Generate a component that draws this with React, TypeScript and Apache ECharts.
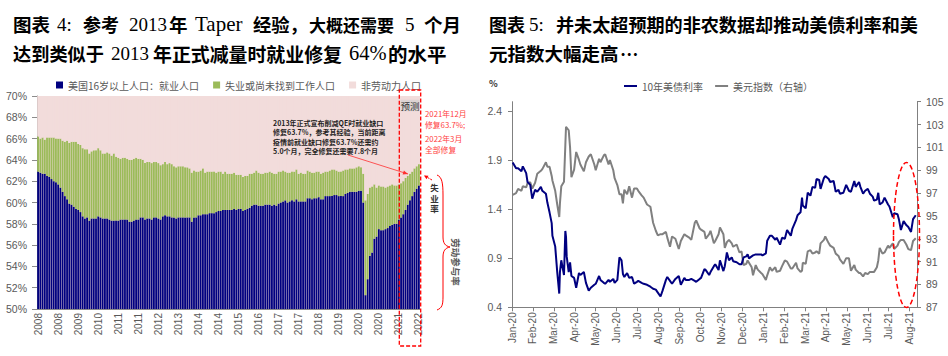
import React, { useEffect, useRef } from 'react';
import * as echarts from 'echarts';

// ---------- Left chart: US population 16+ (percent) ----------
const employmentRate = [
  62.9, 62.8, 62.7, 62.7, 62.5, 62.4, 62.2, 62.0, 61.9, 61.7, 61.4, 61.0,
  60.6, 60.3, 59.9, 59.8, 59.6, 59.4, 59.3, 59.1, 58.7, 58.5, 58.6, 58.3,
  58.5, 58.5, 58.5, 58.7, 58.6, 58.5, 58.5, 58.5, 58.4, 58.3, 58.3, 58.3,
  58.3, 58.4, 58.4, 58.4, 58.4, 58.2, 58.2, 58.3, 58.4, 58.4, 58.6, 58.6,
  58.4, 58.5, 58.5, 58.4, 58.6, 58.6, 58.5, 58.4, 58.7, 58.8, 58.7, 58.7,
  58.6, 58.6, 58.5, 58.6, 58.6, 58.6, 58.6, 58.6, 58.6, 58.2, 58.6, 58.6,
  58.8, 58.8, 58.9, 58.9, 58.9, 59.0, 59.0, 59.0, 59.1, 59.2, 59.2, 59.3,
  59.3, 59.3, 59.3, 59.3, 59.4, 59.3, 59.4, 59.4, 59.2, 59.3, 59.4, 59.5,
  59.7, 59.8, 59.8, 59.7, 59.7, 59.7, 59.8, 59.8, 59.8, 59.7, 59.8, 59.7,
  59.9, 60.0, 60.1, 60.2, 60.0, 60.1, 60.2, 60.1, 60.3, 60.1, 60.1, 60.1,
  60.1, 60.4, 60.4, 60.3, 60.4, 60.4, 60.5, 60.3, 60.3, 60.6, 60.6, 60.6,
  60.6, 60.7, 60.7, 60.6, 60.6, 60.6, 60.8, 60.9, 61.0, 61.0, 61.0, 61.0,
  61.1, 61.1, 60.0, 51.3, 52.8, 55.0, 55.3, 56.6, 56.8, 57.5, 57.4, 57.4,
  57.5, 57.6, 57.8, 57.9, 58.0, 58.0, 58.4,
  58.6, 58.9, 59.3, 59.8, 60.2, 60.6, 61.0, 61.3, 61.6,
];
const participationRate = [
  66.2, 66.0, 66.1, 65.9, 66.1, 66.1, 66.1, 66.1, 66.0, 66.0, 66.0, 65.8,
  65.7, 65.8, 65.6, 65.7, 65.7, 65.7, 65.5, 65.4, 65.1, 65.0, 65.0, 64.6,
  64.8, 64.9, 64.9, 65.1, 64.9, 64.6, 64.6, 64.7, 64.6, 64.4, 64.6, 64.3,
  64.2, 64.1, 64.2, 64.2, 64.1, 64.0, 64.0, 64.1, 64.2, 64.1, 64.1, 64.0,
  63.7, 63.8, 63.8, 63.7, 63.8, 63.8, 63.7, 63.5, 63.6, 63.8, 63.6, 63.7,
  63.6, 63.4, 63.3, 63.4, 63.4, 63.4, 63.3, 63.3, 63.2, 62.8, 63.0, 62.9,
  62.9, 63.0, 63.2, 62.8, 62.9, 62.9, 62.9, 62.9, 62.8, 62.9, 62.9, 62.7,
  62.9, 62.7, 62.7, 62.7, 62.8, 62.6, 62.6, 62.6, 62.4, 62.5, 62.5, 62.7,
  62.7, 62.8, 63.0, 62.8, 62.7, 62.7, 62.8, 62.8, 62.9, 62.8, 62.7, 62.7,
  62.9, 62.9, 63.0, 62.9, 62.8, 62.8, 62.9, 62.9, 63.1, 62.7, 62.8, 62.7,
  62.7, 63.0, 62.9, 62.8, 62.8, 62.9, 62.9, 62.7, 62.8, 62.9, 62.9, 63.0,
  63.1, 63.1, 63.0, 62.9, 62.9, 63.0, 63.1, 63.1, 63.2, 63.2, 63.2, 63.3,
  63.4, 63.3, 62.7, 60.2, 60.8, 61.4, 61.5, 61.7, 61.4, 61.6, 61.5, 61.5,
  61.4, 61.5, 61.6, 61.7, 61.6, 61.6, 61.7,
  61.8, 62.0, 62.3, 62.5, 62.7, 62.9, 63.2, 63.4, 63.6,
];
const LEFT_START_YEAR = 2008;
const LEFT_TOP = 70;
const leftSeriesNames = ['美国16岁以上人口：就业人口', '失业或尚未找到工作人口', '非劳动力人口'];

// ---------- Right chart: 10Y UST yield & DXY ----------
const rateDates = [
  '2020-01-02', '2020-01-07', '2020-01-10', '2020-01-15', '2020-01-17', '2020-01-22', '2020-01-24', '2020-01-28', '2020-01-31',
  '2020-02-04', '2020-02-07', '2020-02-12', '2020-02-14', '2020-02-19', '2020-02-21', '2020-02-24', '2020-02-27', '2020-02-28',
  '2020-03-03', '2020-03-06', '2020-03-09', '2020-03-10', '2020-03-12', '2020-03-16', '2020-03-18', '2020-03-19', '2020-03-20', '2020-03-23', '2020-03-25', '2020-03-27', '2020-03-31',
  '2020-04-03', '2020-04-07', '2020-04-09', '2020-04-14', '2020-04-17', '2020-04-21', '2020-04-24', '2020-04-29',
  '2020-05-01', '2020-05-06', '2020-05-08', '2020-05-13', '2020-05-15', '2020-05-20', '2020-05-22', '2020-05-27', '2020-05-29',
  '2020-06-02', '2020-06-05', '2020-06-08', '2020-06-10', '2020-06-12', '2020-06-16', '2020-06-19', '2020-06-23', '2020-06-26', '2020-06-30',
  '2020-07-02', '2020-07-07', '2020-07-10', '2020-07-15', '2020-07-20', '2020-07-24', '2020-07-28', '2020-07-31',
  '2020-08-04', '2020-08-07', '2020-08-12', '2020-08-14', '2020-08-18', '2020-08-21', '2020-08-26', '2020-08-31',
  '2020-09-03', '2020-09-08', '2020-09-10', '2020-09-15', '2020-09-18', '2020-09-23', '2020-09-25', '2020-09-30',
  '2020-10-02', '2020-10-07', '2020-10-09', '2020-10-14', '2020-10-16', '2020-10-21', '2020-10-23', '2020-10-28', '2020-10-30',
  '2020-11-04', '2020-11-06', '2020-11-09', '2020-11-12', '2020-11-16', '2020-11-18', '2020-11-23', '2020-11-27', '2020-11-30',
  '2020-12-03', '2020-12-07', '2020-12-09', '2020-12-11', '2020-12-15', '2020-12-17', '2020-12-21', '2020-12-24', '2020-12-29', '2020-12-31',
  '2021-01-05', '2021-01-07', '2021-01-11', '2021-01-14', '2021-01-19', '2021-01-21', '2021-01-26', '2021-01-29',
  '2021-02-02', '2021-02-05', '2021-02-10', '2021-02-12', '2021-02-17', '2021-02-19', '2021-02-23', '2021-02-25', '2021-02-26',
  '2021-03-02', '2021-03-05', '2021-03-09', '2021-03-12', '2021-03-16', '2021-03-18', '2021-03-22', '2021-03-24', '2021-03-29', '2021-03-31',
  '2021-04-05', '2021-04-07', '2021-04-12', '2021-04-15', '2021-04-19', '2021-04-21', '2021-04-26', '2021-04-30',
  '2021-05-04', '2021-05-07', '2021-05-12', '2021-05-14', '2021-05-19', '2021-05-21', '2021-05-25', '2021-05-28',
  '2021-06-01', '2021-06-04', '2021-06-08', '2021-06-10', '2021-06-14', '2021-06-16', '2021-06-18', '2021-06-22', '2021-06-25', '2021-06-30',
  '2021-07-02', '2021-07-07', '2021-07-09', '2021-07-14', '2021-07-16', '2021-07-19', '2021-07-23', '2021-07-27', '2021-07-30',
  '2021-08-03', '2021-08-06', '2021-08-10',
];
const ust10y = [
  1.88, 1.82, 1.82, 1.79, 1.84, 1.77, 1.68, 1.65, 1.51,
  1.60, 1.58, 1.63, 1.59, 1.56, 1.47, 1.37, 1.26, 1.13,
  1.02, 0.76, 0.54, 0.76, 0.88, 0.73, 1.18, 1.12, 0.92, 0.76, 0.86, 0.72, 0.70,
  0.60, 0.75, 0.73, 0.76, 0.65, 0.57, 0.60, 0.63,
  0.64, 0.72, 0.68, 0.65, 0.64, 0.68, 0.66, 0.69, 0.65,
  0.68, 0.91, 0.88, 0.74, 0.71, 0.75, 0.70, 0.71, 0.64, 0.66,
  0.67, 0.65, 0.64, 0.63, 0.61, 0.59, 0.58, 0.55,
  0.51, 0.57, 0.68, 0.71, 0.67, 0.64, 0.69, 0.72,
  0.63, 0.70, 0.68, 0.68, 0.69, 0.67, 0.66, 0.69,
  0.70, 0.79, 0.78, 0.73, 0.76, 0.82, 0.84, 0.78, 0.88,
  0.77, 0.82, 0.96, 0.88, 0.91, 0.87, 0.86, 0.84, 0.84,
  0.91, 0.92, 0.94, 0.90, 0.92, 0.93, 0.94, 0.94, 0.94, 0.93,
  0.95, 1.08, 1.13, 1.13, 1.09, 1.11, 1.04, 1.11,
  1.10, 1.19, 1.13, 1.20, 1.29, 1.34, 1.37, 1.52, 1.44,
  1.41, 1.57, 1.54, 1.63, 1.62, 1.71, 1.70, 1.61, 1.72, 1.74,
  1.71, 1.68, 1.69, 1.58, 1.60, 1.56, 1.57, 1.65,
  1.59, 1.58, 1.69, 1.63, 1.68, 1.63, 1.56, 1.59,
  1.61, 1.56, 1.53, 1.49, 1.50, 1.57, 1.45, 1.47, 1.52, 1.45,
  1.43, 1.32, 1.36, 1.35, 1.30, 1.19, 1.28, 1.24, 1.22,
  1.17, 1.30, 1.34,
];
const dollarIndex = [
  96.85, 97.0, 97.36, 97.2, 97.6, 97.5, 97.87, 97.95, 97.39,
  97.9, 98.7, 98.95, 99.1, 99.7, 99.3, 99.3, 98.5, 98.1,
  97.2, 96.0, 94.9, 96.1, 97.6, 98.0, 101.2, 102.8, 102.8, 102.5, 101.0, 98.4, 99.05,
  100.6, 99.9, 99.5, 98.9, 99.7, 100.2, 100.4, 99.5,
  99.0, 100.0, 99.7, 100.3, 100.4, 99.5, 99.9, 99.0, 98.3,
  97.7, 96.9, 96.9, 96.1, 97.3, 96.9, 97.6, 96.6, 97.4, 97.4,
  97.2, 96.8, 96.6, 96.0, 95.8, 94.4, 93.7, 93.3,
  93.4, 93.4, 93.6, 93.1, 92.3, 93.2, 93.0, 92.1,
  92.8, 93.4, 93.3, 93.1, 92.9, 94.4, 94.6, 93.9,
  93.8, 93.6, 93.0, 93.4, 93.7, 92.6, 92.8, 93.4, 94.0,
  93.4, 92.2, 92.7, 92.9, 92.6, 92.3, 92.5, 91.8, 91.9,
  90.7, 90.8, 91.1, 90.9, 90.5, 89.8, 90.7, 90.3, 90.0, 89.9,
  89.4, 89.8, 90.5, 90.2, 90.5, 90.1, 90.2, 90.6,
  91.1, 91.0, 90.4, 90.4, 90.9, 90.4, 90.1, 90.2, 90.9,
  90.8, 91.9, 92.0, 91.7, 91.8, 91.9, 91.7, 92.6, 92.9, 93.2,
  92.6, 92.4, 92.2, 91.7, 91.5, 91.2, 90.8, 91.3,
  91.3, 90.2, 90.7, 90.3, 90.0, 90.0, 89.7, 90.0,
  89.9, 90.1, 90.1, 90.1, 90.5, 91.1, 92.2, 91.7, 91.8, 92.4,
  92.2, 92.6, 92.1, 92.4, 92.7, 92.9, 92.9, 92.5, 92.1,
  92.0, 92.8, 93.05,
];
const monthTickLabels = [
  'Jan-20', 'Feb-20', 'Mar-20', 'Apr-20', 'May-20', 'Jun-20', 'Jul-20', 'Aug-20', 'Sep-20', 'Oct-20',
  'Nov-20', 'Dec-20', 'Jan-21', 'Feb-21', 'Mar-21', 'Apr-21', 'May-21', 'Jun-21', 'Jul-21', 'Aug-21',
];
const rightSeriesNames = ['10年美债利率', '美元指数（右轴）'];

const CJK = '"Noto Sans CJK SC", "Noto Sans", sans-serif';
const SERIF = '"Liberation Serif", "DejaVu Serif", serif';
const AXISFONT = '"Liberation Sans", Arial, sans-serif';
const RED = '#ff0000';

function monthPos(d: string): number {
  const [y, m, dd] = d.split('-').map(Number);
  const dim = new Date(y, m, 0).getDate();
  return (y - 2020) * 12 + (m - 1) + (dd - 1) / dim;
}

type Seg = [string, number, 'c' | 'l', number];
function titleSegs(segs: Seg[], y: number) {
  return segs.map(([text, x, k, size]) => ({
    type: 'text',
    x,
    y,
    silent: true,
    style: {
      text,
      fill: '#000',
      fontFamily: k === 'c' ? CJK : SERIF,
      fontWeight: k === 'c' ? 'bold' : 'normal',
      fontSize: size,
      align: 'left',
      verticalAlign: 'middle',
    },
  }));
}

function arrowHead(x1: number, y1: number, x2: number, y2: number, len: number, w: number) {
  const dx = x2 - x1, dy = y2 - y1;
  const L = Math.hypot(dx, dy);
  const ux = dx / L, uy = dy / L;
  const bx = x2 - ux * len, by = y2 - uy * len;
  return [[x2, y2], [bx - uy * w, by + ux * w], [bx + uy * w, by - ux * w]];
}

function lines(texts: string[], x: number, y0: number, step: number, style: any, z = 11) {
  return texts.map((t, i) => ({
    type: 'text', x, y: y0 + i * step, z,
    style: { text: t, verticalAlign: 'middle', ...style },
  }));
}

export default function App() {
  const ref = useRef<HTMLDivElement>(null);
  useEffect(() => {
    if (!ref.current) return;
    echarts.graphic.registerShape(
      'rightBrace',
      echarts.graphic.extendPath(
        'M0,0 C5,2 6,8 6,20 L6,62 C6,68 8,71 13,72 C8,73 6,76 6,82 L6,122 C6,130 5,133 0,135',
        {}
      )
    );
    const chart = echarts.init(ref.current, undefined, { renderer: 'svg' });

    const cats: string[] = employmentRate.map((_, i) => {
      const y = LEFT_START_YEAR + Math.floor(i / 12);
      const m = (i % 12) + 1;
      return `${y}-${m < 10 ? '0' + m : m}`;
    });
    const unemployed = participationRate.map((p, i) => +(p - employmentRate[i]).toFixed(1));
    const notInLabor = participationRate.map((p) => +(LEFT_TOP - p).toFixed(1));

    const yieldData = rateDates.map((d, i) => [monthPos(d), ust10y[i]]);
    const dxyData = rateDates.map((d, i) => [monthPos(d), dollarIndex[i]]);

    const axisGray = '#8c8c8c';
    const labelGray = '#595959';

    const annArrow = { x1: 348, y1: 155, x2: 408, y2: 174 };
    const smallArrow = { x1: 432, y1: 180, x2: 424, y2: 175.5 };

    const redNote = { fill: '#ff4040', fontFamily: CJK, fontSize: 7.8 };
    const blackNote = { fill: '#1f1f1f', fontFamily: CJK, fontWeight: 'bold', fontSize: 7 };

    const graphic: any[] = [
      ...titleSegs(
        [
          ['图表', 13, 'c', 18.5], ['4:', 57, 'l', 19], ['参考', 83, 'c', 18], ['2013', 129, 'l', 19], ['年', 169, 'c', 18.5],
          ['Taper', 195, 'l', 21], ['经验，', 253, 'c', 18.3], ['大概还需要', 309, 'c', 17], ['5', 405, 'l', 19], ['个月', 424, 'c', 18.5],
        ],
        24
      ),
      ...titleSegs(
        [
          ['达到类似于', 13, 'c', 18.2], ['2013', 111, 'l', 19], ['年正式减量时就业修复', 153, 'c', 18.9],
          ['64%', 349, 'l', 20.5], ['的水平', 388, 'c', 19.5],
        ],
        53
      ),
      ...titleSegs(
        [
          ['图表', 489, 'c', 18], ['5:', 529, 'l', 19], ['并未太超预期的非农数据却推动美债利率和美', 556, 'c', 18.1],
        ],
        24
      ),
      ...titleSegs([['元指数大幅走高', 489, 'c', 18.5], ['…', 620, 'c', 18.5]], 53),
      // % unit label
      {
        type: 'text', x: 489, y: 83,
        style: { text: '%', fill: '#333', fontFamily: CJK, fontWeight: 'bold', fontSize: 9, verticalAlign: 'middle' },
      },
      // forecast box
      {
        type: 'rect', shape: { x: 399.3, y: 90, width: 21.4, height: 256 },
        style: { fill: 'none', stroke: RED, lineWidth: 1.3, lineDash: [4, 2] }, z: 10,
      },
      {
        type: 'text', x: 410, y: 105.5, z: 11,
        style: {
          text: '预测', fill: '#333', fontFamily: CJK, fontSize: 9.5, align: 'center', verticalAlign: 'middle',
          backgroundColor: '#ddd3d3', padding: [1, 0],
        },
      },
      // red notes at top right
      ...lines(['2021年12月', '修复63.7%;'], 425, 113.5, 10.5, redNote),
      ...lines(['2022年3月', '全部修复'], 425, 138.5, 10.5, redNote),
      // annotation text
      ...lines(
        [
          '2013年正式宣布削减QE时就业缺口',
          '修复63.7%，参考其经验，当前距离',
          '疫情前就业缺口修复63.7%还需约',
          '5.0个月，完全修复还需要7.8个月',
        ],
        273, 122.7, 9.5, blackNote
      ),
      {
        type: 'line', z: 11,
        shape: { x1: annArrow.x1, y1: annArrow.y1, x2: annArrow.x2, y2: annArrow.y2 },
        style: { stroke: '#ff3030', lineWidth: 0.8 },
      },
      {
        type: 'polygon', z: 11,
        shape: { points: arrowHead(annArrow.x1, annArrow.y1, annArrow.x2, annArrow.y2, 5, 2.2) },
        style: { fill: '#ff3030' },
      },
      // small arrow to unemployment
      {
        type: 'line', z: 11,
        shape: { x1: smallArrow.x1, y1: smallArrow.y1, x2: smallArrow.x2, y2: smallArrow.y2 },
        style: { stroke: RED, lineWidth: 1, lineDash: [2, 1] },
      },
      {
        type: 'polygon', z: 11,
        shape: { points: arrowHead(smallArrow.x1, smallArrow.y1, smallArrow.x2, smallArrow.y2, 4, 2) },
        style: { fill: RED },
      },
      ...lines(['失', '业', '率'], 434.5, 187, 10.5, {
        fill: '#333', fontFamily: CJK, fontWeight: 'bold', fontSize: 8.5, align: 'center',
      }),
      {
        type: 'rightBrace', x: 437, y: 175, z: 11,
        style: { fill: 'none', stroke: RED, lineWidth: 1 },
      },
      {
        type: 'text', x: 455.5, y: 262, rotation: -Math.PI / 2, z: 11,
        style: { text: '劳动参与率', fill: labelGray, fontFamily: CJK, fontWeight: 'bold', fontSize: 9.5, align: 'center', verticalAlign: 'middle' },
      },
      // red dashed ellipse on right chart
      {
        type: 'ellipse', z: 11,
        shape: { cx: 906.5, cy: 235, rx: 13, ry: 72.5 },
        style: { fill: 'none', stroke: RED, lineWidth: 1.5, lineDash: [5, 3] },
      },
    ];

    const option: any = {
      animation: false,
      backgroundColor: '#fff',
      textStyle: { fontFamily: CJK },
      legend: [
        {
          data: leftSeriesNames,
          left: 51, top: 75,
          icon: 'rect', itemWidth: 7, itemHeight: 7, itemGap: 14,
          textStyle: { fontSize: 10, color: labelGray, fontFamily: CJK },
          selectedMode: false,
        },
        {
          data: rightSeriesNames,
          left: 619, top: 76,
          icon: 'rect', itemWidth: 13, itemHeight: 2, itemGap: 12,
          textStyle: { fontSize: 10, color: labelGray, fontFamily: CJK },
          selectedMode: false,
        },
      ],
      grid: [
        { left: 37, top: 96, width: 383, height: 213, show: true, backgroundColor: '#f2dcdb', borderWidth: 0 },
        { left: 512, top: 101.7, width: 405, height: 205.6 },
      ],
      xAxis: [
        {
          type: 'category', gridIndex: 0, data: cats,
          axisLine: { lineStyle: { color: axisGray } },
          axisTick: { alignWithLabel: true, interval: 8, length: 4, lineStyle: { color: axisGray } },
          axisLabel: {
            interval: 8, rotate: 90, fontSize: 10, color: labelGray, fontFamily: AXISFONT, margin: 4,
            formatter: (v: string) => v.slice(0, 4),
          },
          splitLine: { show: false },
        },
        {
          type: 'value', gridIndex: 1, min: 0, max: 19.35, interval: 1,
          axisLine: { show: true, lineStyle: { color: '#808080' } },
          axisTick: { show: true, length: 4, lineStyle: { color: '#808080' } },
          axisLabel: {
            rotate: 90, fontSize: 10, color: labelGray, fontFamily: AXISFONT, margin: 5, showMaxLabel: false,
            formatter: (v: number) => (Number.isInteger(v) ? monthTickLabels[v] || '' : ''),
          },
          splitLine: { show: false },
        },
      ],
      yAxis: [
        {
          type: 'value', gridIndex: 0, min: 50, max: 70, interval: 2,
          axisLine: { show: true, lineStyle: { color: axisGray } },
          axisTick: { show: true, length: 5, lineStyle: { color: axisGray } },
          axisLabel: { formatter: '{value}%', fontSize: 10.5, color: labelGray, fontFamily: AXISFONT, margin: 10 },
          splitLine: { show: false },
        },
        {
          type: 'value', gridIndex: 1, min: 0.4, max: 2.5, interval: 0.5,
          axisLine: { show: true, lineStyle: { color: '#808080' } },
          axisTick: { show: true, length: 4, lineStyle: { color: '#808080' } },
          axisLabel: {
            fontSize: 10.5, color: labelGray, fontFamily: AXISFONT, margin: 10, showMaxLabel: false,
            formatter: (v: number) => v.toFixed(1),
          },
          splitLine: { show: false },
        },
        {
          type: 'value', gridIndex: 1, position: 'right', min: 87, max: 105, interval: 2,
          axisLine: { show: true, lineStyle: { color: '#808080' } },
          axisTick: { show: true, length: 4, lineStyle: { color: '#808080' } },
          axisLabel: { fontSize: 10.5, color: labelGray, fontFamily: AXISFONT, margin: 9 },
          splitLine: { show: false },
        },
      ],
      series: [
        {
          name: leftSeriesNames[0], type: 'bar', stack: 'pop', xAxisIndex: 0, yAxisIndex: 0,
          data: employmentRate, itemStyle: { color: '#000080' }, barCategoryGap: '18%',
        },
        {
          name: leftSeriesNames[1], type: 'bar', stack: 'pop', xAxisIndex: 0, yAxisIndex: 0,
          data: unemployed, itemStyle: { color: '#9bbb59' },
        },
        {
          name: leftSeriesNames[2], type: 'bar', stack: 'pop', xAxisIndex: 0, yAxisIndex: 0,
          data: notInLabor, itemStyle: { color: '#f2dcdb' },
        },
        {
          name: rightSeriesNames[1], type: 'line', xAxisIndex: 1, yAxisIndex: 2,
          data: dxyData, showSymbol: false, lineStyle: { color: '#808080', width: 2 }, itemStyle: { color: '#808080' },
        },
        {
          name: rightSeriesNames[0], type: 'line', xAxisIndex: 1, yAxisIndex: 1,
          data: yieldData, showSymbol: false, lineStyle: { color: '#000080', width: 2 }, itemStyle: { color: '#000080' },
        },
      ],
      graphic,
    };
    chart.setOption(option);
    return () => chart.dispose();
  }, []);
  return <div ref={ref} style={{ position: 'absolute', left: 0, top: 0, width: 948, height: 356 }} />;
}
